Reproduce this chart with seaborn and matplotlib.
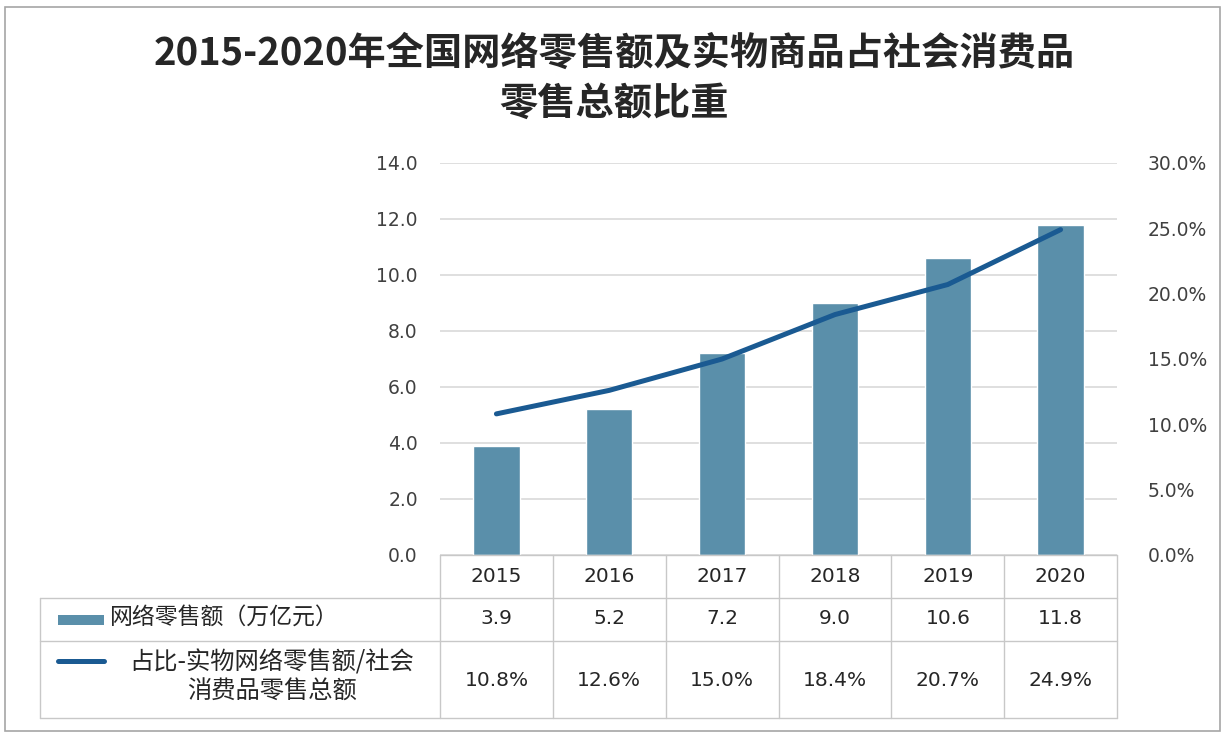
import numpy as np
import pandas as pd
import matplotlib
matplotlib.use("Agg")
import matplotlib.pyplot as plt
import matplotlib.transforms as mtransforms
from matplotlib.patches import Rectangle
from matplotlib.lines import Line2D
import seaborn as sns

years = ["2015", "2016", "2017", "2018", "2019", "2020"]
online_sales = [3.9, 5.2, 7.2, 9.0, 10.6, 11.8]
share_pct = [10.8, 12.6, 15.0, 18.4, 20.7, 24.9]
left_ticks = [0, 2, 4, 6, 8, 10, 12, 14]
right_ticks = [0, 5, 10, 15, 20, 25, 30]
title_lines = ["2015-2020年全国网络零售额及实物商品占社会消费品", "零售总额比重"]
row1_label = "网络零售额（万亿元）"
row2_label = "占比-实物网络零售额/社会\n消费品零售总额"

bar_color = "#5A8FAA"
line_color = "#1A5A92"
grid_color = "#D9D9D9"
table_color = "#C8C8C8"
text_color = "#404040"

sns.set_style("white")
plt.rcParams['font.family'] = ['Noto Sans CJK SC', 'DejaVu Sans']
num_font = ['DejaVu Sans']

W, H = 1230, 740
fig = plt.figure(figsize=(W / 100, H / 100), dpi=100)

def fx(px):
    return px / W

def fy(py):
    return 1 - py / H

ax_left, ax_right, ax_top, ax_bottom = 440, 1117, 163, 555
ax = fig.add_axes([fx(ax_left), fy(ax_bottom), fx(ax_right - ax_left), (ax_bottom - ax_top) / H])

df = pd.DataFrame({"year": years, "sales": online_sales, "share": np.array(share_pct) / 100.0,
                   "pos": np.arange(len(years))})

sns.barplot(data=df, x="year", y="sales", ax=ax, color=bar_color, width=0.41,
            saturation=1, zorder=2)
ax.set_xlim(-0.5, len(years) - 0.5)
ax.set_ylim(0, 14)
ax.set_yticks(left_ticks)
ax.set_yticklabels([f"{v:.1f}" for v in left_ticks], fontsize=13.5, color=text_color, family=num_font)
ax.tick_params(axis="y", length=0, pad=16)
ax.tick_params(axis="x", length=0, labelbottom=False)
ax.set_xlabel("")
ax.set_ylabel("")
ax.yaxis.grid(True, color=grid_color, linewidth=1.2, zorder=0)
ax.set_axisbelow(True)
for s in ax.spines.values():
    s.set_visible(False)

ax2 = ax.twinx()
sns.lineplot(data=df, x="pos", y="share", ax=ax2, color=line_color, linewidth=3.6, zorder=3)
ax2.set_ylim(0, 0.30)
ax2.set_yticks([t / 100 for t in right_ticks])
ax2.set_yticklabels([f"{t:.1f}%" for t in right_ticks], fontsize=13.5, color=text_color, family=num_font)
ax2.tick_params(axis="y", length=0, pad=22)
ax2.set_xlabel("")
ax2.set_ylabel("")
ax2.set_xlim(-0.5, len(years) - 0.5)
for s in ax2.spines.values():
    s.set_visible(False)

# Title
fig.text(fx(614), fy(53), title_lines[0], ha="center", va="center", fontsize=27.5, fontweight="bold",
         color="#262626")
fig.text(fx(614), fy(103), title_lines[1], ha="center", va="center", fontsize=27.5, fontweight="bold",
         color="#262626")

# Data table
trans = mtransforms.blended_transform_factory(ax.transData, fig.transFigure)
row_y = [555, 598, 641, 718]
label_left = 40
lw = 1.0

def hline(py, x0_px):
    fig.add_artist(Line2D([fx(x0_px), fx(ax_right)], [fy(py), fy(py)], color=table_color, lw=lw))

hline(row_y[0], ax_left)
for py in row_y[1:]:
    hline(py, label_left)
fig.add_artist(Line2D([fx(label_left), fx(label_left)], [fy(row_y[1]), fy(row_y[3])], color=table_color, lw=lw))
for i in range(len(years) + 1):
    xb = i - 0.5
    ax.add_line(Line2D([xb, xb], [fy(row_y[0]), fy(row_y[3])], transform=trans, color=table_color,
                       lw=lw, clip_on=False))

for i, (yr, v, p) in enumerate(zip(years, online_sales, share_pct)):
    ax.text(i, fy(577), yr, transform=trans, ha="center", va="center", fontsize=14.5,
            color="#262626", family=num_font)
    ax.text(i, fy(619), f"{v:.1f}", transform=trans, ha="center", va="center", fontsize=14.5,
            color="#262626", family=num_font)
    ax.text(i, fy(680), f"{p:.1f}%", transform=trans, ha="center", va="center", fontsize=14.5,
            color="#262626", family=num_font)

# legend keys in table
fig.add_artist(Rectangle((fx(58), fy(625)), fx(46), 10 / H, facecolor=bar_color, edgecolor="none"))
fig.add_artist(Line2D([fx(58), fx(104)], [fy(661), fy(661)], color=line_color, lw=3.6))
fig.text(fx(110), fy(617), row1_label, ha="left", va="center", fontsize=16.5, color="#262626")
fig.text(fx(272), fy(677), row2_label, ha="center", va="center", fontsize=17.5, color="#262626",
         linespacing=1.2)

# outer frame
fig.add_artist(Rectangle((fx(5), fy(731)), fx(1215), (731 - 7) / H, facecolor="none",
                         edgecolor="#A6A6A6", lw=1.2))

fig.savefig("out.png", dpi=100, facecolor="white")
